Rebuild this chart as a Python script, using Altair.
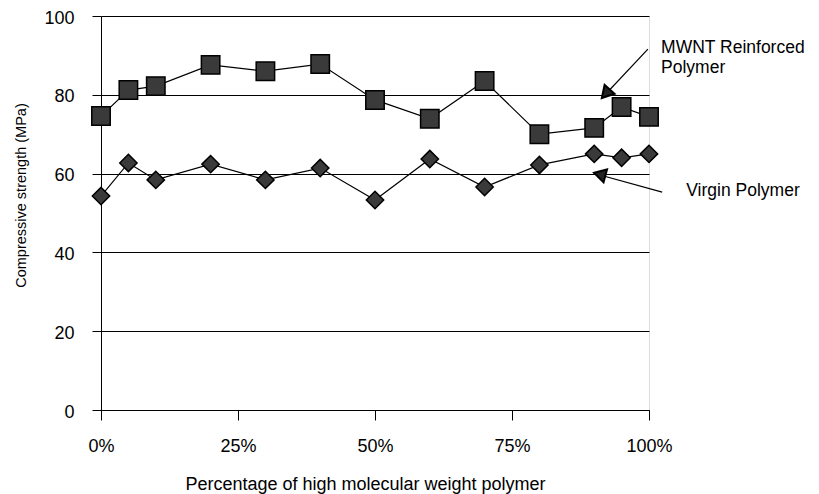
import altair as alt
import pandas as pd

pct = [0, 5, 10, 20, 30, 40, 50, 60, 70, 80, 90, 95, 100]
mwnt = [74.6, 81.2, 82.2, 87.6, 86.0, 87.8, 78.7, 73.9, 83.5, 70.0, 71.6, 76.9, 74.4]
virgin = [54.3, 62.7, 58.4, 62.4, 58.4, 61.4, 53.3, 63.7, 56.6, 62.2, 65.0, 64.0, 65.0]
series_names = ["MWNT Reinforced Polymer", "Virgin Polymer"]
x_ticks = [0, 25, 50, 75, 100]
y_ticks = [0, 20, 40, 60, 80, 100]

# annotation texts (data coordinates)
ann_text = ["MWNT Reinforced", "Polymer", "Virgin Polymer"]
ann_x = [102.2, 102.2, 106.8]
ann_y = [91.8, 86.8, 55.6]
arrow_x = [99.8, 102.4]
arrow_y = [91.6, 55.3]
arrow_x2 = [91.3, 89.9]
arrow_y2 = [79.0, 60.1]
head_x = [92.1, 91.0]
head_y = [80.3, 59.8]
head_angle = [222, 285]

rows = []
for p, m, v in zip(pct, mwnt, virgin):
    rows.append({"pct": p, "val": m, "series": series_names[0]})
    rows.append({"pct": p, "val": v, "series": series_names[1]})
df = pd.DataFrame(rows)

FONT = "Liberation Sans"

xscale = alt.Scale(domain=[0, 100], nice=False, zero=False)
yscale = alt.Scale(domain=[0, 100], nice=False)

x_enc = alt.X("pct:Q", scale=xscale,
              axis=alt.Axis(values=x_ticks, labelExpr="datum.value + '%'",
                            title="Percentage of high molecular weight polymer",
                            grid=False, tickSize=10, tickColor="black", domainColor="black",
                            labelFlush=False, labelPadding=17, titlePadding=20, labelFontSize=18,
                            titleFontSize=18, labelFont=FONT, titleFont=FONT,
                            titleX=264, titleAlign="center",
                            titleFontWeight="normal", labelColor="black", titleColor="black"))
y_enc = alt.Y("val:Q", scale=yscale,
              axis=alt.Axis(values=y_ticks, title="Compressive strength (MPa)",
                            grid=True, gridColor="black", gridOpacity=1, gridWidth=1,
                            tickSize=9, tickColor="black", domainColor="black",
                            labelFlush=False, labelOffset=2, labelPadding=18, titlePadding=15,
                            labelFontSize=18, titleFontSize=14.5, labelFont=FONT, titleFont=FONT,
                            titleY=179, titleAlign="center",
                            titleFontWeight="normal", labelColor="black", titleColor="black"))

base = alt.Chart(df)
lines = base.mark_line(color="black", strokeWidth=1.2).encode(
    x=x_enc, y=y_enc, detail="series:N")
points = base.mark_point(filled=True, opacity=1, stroke="black", strokeWidth=1.5,
                         fill="#3a3a3a").encode(
    x="pct:Q", y="val:Q",
    shape=alt.Shape("series:N", scale=alt.Scale(domain=series_names, range=["square", "diamond"]), legend=None),
    size=alt.Size("series:N", scale=alt.Scale(domain=series_names, range=[340, 300]), legend=None),
)

ann_df = pd.DataFrame({"t": ann_text, "x": ann_x, "y": ann_y})
texts = alt.Chart(ann_df).mark_text(align="left", baseline="middle", fontSize=17.5, font=FONT,
                                    color="black").encode(x="x:Q", y="y:Q", text="t:N")

arr_df = pd.DataFrame({"x": arrow_x, "y": arrow_y, "x2": arrow_x2, "y2": arrow_y2})
arrows = alt.Chart(arr_df).mark_rule(color="black", strokeWidth=1.2).encode(
    x="x:Q", y="y:Q", x2="x2:Q", y2="y2:Q")

head_df = pd.DataFrame({"x": head_x, "y": head_y, "a": head_angle})
heads = alt.Chart(head_df).mark_point(shape="triangle-up", filled=True, fill="#222", stroke="black",
                                      opacity=1, size=180).encode(
    x="x:Q", y="y:Q", angle=alt.Angle("a:Q", scale=None))

chart = alt.layer(lines, points, arrows, heads, texts).properties(
    width=548, height=394,
    autosize=alt.AutoSizeParams(type="none"),
    padding={"left": 93, "top": 8, "right": 162, "bottom": 84},
).configure_view(stroke="black", strokeWidth=1).configure(background="white")

chart.save("out.html", embed_options={"renderer": "svg", "actions": False})
